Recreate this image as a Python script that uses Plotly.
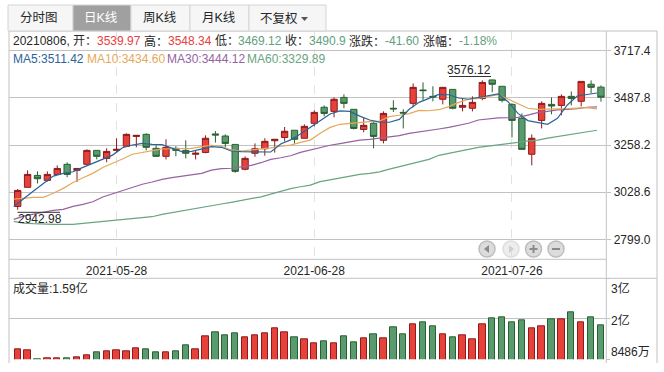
import plotly.graph_objects as go

W, H = 664, 372

tick_dates = ["2021-05-28", "2021-06-28", "2021-07-26"]
tick_index = [10, 30, 50]
price_ticks = [3717.4, 3487.8, 3258.2, 3028.6, 2799.0]

opens = [2959, 3052, 3110, 3086, 3115, 3164, 3135, 3164, 3232, 3193,
         3232, 3252, 3300, 3310, 3242, 3203, 3242, 3232, 3213, 3222,
         3312, 3302, 3261, 3140, 3218, 3240, 3279, 3295, 3330, 3291,
         3364, 3442, 3422, 3490, 3432, 3334, 3364, 3281, 3437, 3417,
         3461, 3526, 3495, 3481, 3529, 3442, 3437, 3485, 3575, 3544,
         3456, 3388, 3213, 3378, 3456, 3451, 3495, 3471, 3554, 3539.97]
closes = [3037, 3115, 3094, 3115, 3144, 3115, 3144, 3232, 3203, 3227,
          3237, 3310, 3305, 3247, 3203, 3247, 3232, 3218, 3218, 3291,
          3307, 3266, 3130, 3193, 3240, 3276, 3286, 3325, 3286, 3349,
          3417, 3412, 3481, 3461, 3339, 3354, 3300, 3412, 3434, 3414,
          3539, 3523, 3492, 3539, 3437, 3451, 3466, 3563, 3554, 3476,
          3378, 3237, 3291, 3461, 3448, 3495, 3485, 3568, 3539, 3490.9]
highs = [3044, 3135, 3130, 3130, 3159, 3174, 3144, 3237, 3232, 3242,
         3291, 3315, 3305, 3315, 3257, 3286, 3252, 3281, 3232, 3305,
         3326, 3310, 3261, 3203, 3266, 3291, 3286, 3346, 3330, 3359,
         3427, 3451, 3490, 3505, 3432, 3393, 3369, 3422, 3476, 3432,
         3558, 3563, 3544, 3539, 3529, 3485, 3495, 3573, 3576.12, 3544,
         3461, 3412, 3310, 3471, 3490, 3505, 3519, 3568, 3573, 3548.34]
lows = [2942.98, 3052, 3071, 3080, 3115, 3101, 3078, 3164, 3188, 3174,
        3222, 3252, 3247, 3232, 3203, 3188, 3203, 3193, 3188, 3218,
        3270, 3247, 3123, 3135, 3201, 3206, 3221, 3276, 3265, 3291,
        3349, 3398, 3393, 3437, 3334, 3320, 3242, 3266, 3419, 3339,
        3442, 3476, 3471, 3456, 3432, 3422, 3422, 3476, 3515, 3466,
        3295, 3237, 3159, 3339, 3408, 3403, 3451, 3446, 3510, 3469.12]

ma5 = [2959, 2998, 3034, 3071, 3107, 3120, 3128, 3149, 3169, 3188,
       3209, 3245, 3258, 3266, 3261, 3260, 3244, 3226, 3227, 3239,
       3250, 3247, 3229, 3226, 3226, 3224, 3224, 3263, 3283, 3312,
       3344, 3375, 3409, 3424, 3422, 3399, 3380, 3370, 3369, 3383,
       3432, 3466, 3485, 3505, 3503, 3487, 3481, 3489, 3497, 3507,
       3469, 3412, 3377, 3367, 3359, 3388, 3453, 3497, 3505, 3511.42]
ma10 = [2995, 3000, 3003, 3003, 3023, 3047, 3076, 3099, 3120, 3149,
        3169, 3190, 3213, 3221, 3229, 3239, 3240, 3240, 3242, 3250,
        3257, 3252, 3234, 3229, 3234, 3237, 3244, 3252, 3258, 3271,
        3282, 3315, 3344, 3359, 3364, 3369, 3372, 3375, 3396, 3403,
        3411, 3427, 3425, 3430, 3445, 3466, 3481, 3485, 3494, 3503,
        3482, 3458, 3437, 3432, 3432, 3433, 3435, 3438, 3440, 3434.60]
ma30 = [2896, 2912, 2922, 2932, 2940, 2945, 2959, 2969, 2982, 3005,
        3020, 3037, 3052, 3067, 3078, 3091, 3099, 3107, 3112, 3120,
        3136, 3143, 3145, 3153, 3159, 3172, 3188, 3196, 3206, 3222,
        3234, 3245, 3257, 3265, 3273, 3282, 3286, 3291, 3299, 3304,
        3315, 3321, 3330, 3336, 3344, 3354, 3364, 3380, 3386, 3390,
        3391, 3393, 3404, 3416, 3422, 3429, 3432, 3435, 3442, 3444.12]
ma60 = [2886, 2878, 2875, 2872, 2872, 2872, 2872, 2877, 2882, 2886,
        2891, 2896, 2901, 2906, 2909, 2920, 2929, 2938, 2945, 2955,
        2964, 2971, 2979, 2987, 2995, 3006, 3019, 3034, 3046, 3055,
        3063, 3080, 3089, 3099, 3107, 3115, 3120, 3127, 3141, 3153,
        3167, 3177, 3188, 3208, 3218, 3227, 3235, 3247, 3253, 3258,
        3266, 3271, 3278, 3282, 3292, 3300, 3308, 3317, 3325, 3329.89]
volumes = [1.225, 1.20, 0.98, 1.00, 1.00, 1.00, 1.025, 1.075, 1.15, 1.175,
           1.20, 1.175, 1.25, 1.225, 1.15, 1.15, 1.175, 1.325, 1.225, 1.55,
           1.65, 1.575, 1.625, 1.525, 1.575, 1.625, 1.75, 1.65, 1.525, 1.475,
           1.375, 1.425, 1.375, 1.55, 1.40, 1.50, 1.60, 1.50, 1.775, 1.60,
           1.85, 1.90, 1.80, 1.60, 1.525, 1.575, 1.475, 1.85, 2.00, 2.025,
           1.90, 1.95, 1.75, 1.80, 1.975, 1.975, 2.15, 1.90, 2.025, 1.825]
volume_ticks = [3, 2, 0.975]
volume_labels = ["3亿", "2亿", "8486万"]

RED, RED_D = "#e6423a", "#8e1a1c"
GREEN, GREEN_D = "#5a9a6f", "#28602f"
GRID = "#c2c2c2"
FONT = "Liberation Sans, Noto Sans CJK SC, sans-serif"
TEXT = "#262626"
C5, C10, C30, C60 = "#2a6496", "#e6a85a", "#95629f", "#68a580"
TXT_RED, TXT_GREEN = "#e8403c", "#5f9f7f"

index = list(range(len(closes)))
line_index = [i - 0.4 for i in index]

def px(x): return x / W
def py(y): return 1 - y / H

fig = go.Figure()
fig.add_trace(go.Candlestick(
    x=index, open=opens, high=highs, low=lows, close=closes,
    whiskerwidth=0, xaxis="x", yaxis="y",
    increasing=dict(fillcolor=RED, line=dict(color=RED_D, width=1)),
    decreasing=dict(fillcolor=GREEN, line=dict(color=GREEN_D, width=1)),
))
for vals, col in [(ma60, C60), (ma30, C30), (ma10, C10), (ma5, C5)]:
    fig.add_trace(go.Scatter(x=line_index, y=vals, mode="lines", xaxis="x", yaxis="y",
                             line=dict(color=col, width=1.2, shape="linear")))
is_up = [c >= o for o, c in zip(opens, closes)]
fig.add_trace(go.Bar(
    x=index, y=volumes, width=0.64, xaxis="x2", yaxis="y2",
    marker=dict(color=[RED if u else GREEN for u in is_up],
                line=dict(color=[RED_D if u else GREEN_D for u in is_up], width=1)),
))

shapes, notes = [], []

def hline(y, x0, x1, color=GRID, width=1):
    shapes.append(dict(type="line", xref="paper", yref="paper", x0=px(x0), x1=px(x1),
                       y0=py(y), y1=py(y), line=dict(color=color, width=width)))

def vline(x, y0, y1, color=GRID, width=1):
    shapes.append(dict(type="line", xref="paper", yref="paper", x0=px(x), x1=px(x),
                       y0=py(y0), y1=py(y1), line=dict(color=color, width=width)))

def note(text, x, y, color=TEXT, size=12, xanchor="left"):
    notes.append(dict(text=text, xref="paper", yref="paper", x=px(x), y=py(y),
                      xanchor=xanchor, yanchor="middle", showarrow=False,
                      font=dict(family=FONT, size=size, color=color),
                      borderpad=0, borderwidth=0))

# frame
hline(31, 9, 657)
hline(259.3, 9, 606)
hline(278.3, 9, 657)
vline(9, 31, 363)
vline(606.3, 31, 363)
vline(657, 31, 363)

# tabs
edges = [8, 73, 131, 190, 249, 326]
tabs = ["分时图", "日K线", "周K线", "月K线", "不复权"]
centers = [39, 100.7, 160, 219, 279]
for i, (name, cx) in enumerate(zip(tabs, centers)):
    active = i == 1
    shapes.append(dict(type="rect", xref="paper", yref="paper", x0=px(edges[i]), x1=px(edges[i + 1]),
                       y0=py(31), y1=py(5), fillcolor="#a0a0a0" if active else "#f6f6f6",
                       line=dict(color="#d4d4d4", width=1)))
    note(name, cx, 18.5, "#ffffff" if active else TEXT, 12.5, "center")
shapes.append(dict(type="path", xref="paper", yref="paper", fillcolor="#555555", line=dict(width=0),
                   path=f"M {px(301)} {py(17)} L {px(308)} {py(17)} L {px(304.5)} {py(21)} Z"))

# header rows
for text, x, color in [("20210806, 开：", 13, TEXT), ("3539.97", 97, TXT_RED), ("高：", 144, TEXT),
                       ("3548.34", 168, TXT_RED), ("低：", 215, TEXT), ("3469.12", 238, TXT_GREEN),
                       ("收：", 285, TEXT), ("3490.9", 309, TXT_GREEN), ("涨跌：", 349, TEXT),
                       ("-41.60", 385, TXT_GREEN), ("涨幅：", 423, TEXT), ("-1.18%", 459, TXT_GREEN)]:
    note(text, x, 41, color)
for text, x, color in [("MA5:3511.42", 13, C5), ("MA10:3434.60", 86.7, C10),
                       ("MA30:3444.12", 167, C30), ("MA60:3329.89", 247, C60)]:
    note(text, x, 59.5, color)

# high / low labels
note("3576.12", 491, 70.5, TEXT, 12, "right")
hline(76.5, 449, 491, "#333333")
note("2942.98", 17.5, 219, TEXT, 12)
hline(212.3, 17.5, 60, "#333333")

# volume labels
note("成交量:1.59亿", 13, 288)
for lab, y in zip(volume_labels, [288.5, 320, 352]):
    note(lab, 611, y)

# zoom buttons
for cx, fill, edge, alpha in [(487, "#dcdcdc", "#bdbdbd", 1), (511, "#dcdcdc", "#bdbdbd", 0.5),
                              (533.5, "#dcdcdc", "#bdbdbd", 1), (556, "#dcdcdc", "#bdbdbd", 1)]:
    r = 8
    shapes.append(dict(type="circle", xref="paper", yref="paper", x0=px(cx - r), x1=px(cx + r),
                       y0=py(249 + r), y1=py(249 - r), fillcolor=fill, opacity=alpha,
                       line=dict(color=edge, width=1.5)))
ICON = "#8a8a8a"
shapes.append(dict(type="path", xref="paper", yref="paper", fillcolor=ICON, line=dict(width=0),
                   path=f"M {px(484)} {py(249)} L {px(489)} {py(245)} L {px(489)} {py(253)} Z"))
shapes.append(dict(type="path", xref="paper", yref="paper", fillcolor="#cfcfcf", line=dict(width=0),
                   path=f"M {px(514)} {py(249)} L {px(509)} {py(245)} L {px(509)} {py(253)} Z"))
hline(249, 529.5, 537.5, ICON, 2)
vline(533.5, 245, 253, ICON, 2)
hline(249, 552, 560, ICON, 2)

PX_PRICE = 4.87
fig.update_layout(
    width=W, height=H, margin=dict(l=0, r=0, t=0, b=0), autosize=False,
    paper_bgcolor="#ffffff", plot_bgcolor="#ffffff", showlegend=False, hovermode=False,
    boxgap=0.36, boxgroupgap=0, bargap=0, font=dict(family=FONT, size=12, color=TEXT),
    shapes=shapes, annotations=notes,
    xaxis=dict(domain=[px(9), px(606.3)], range=[-0.88, 59.54], anchor="y", rangeslider=dict(visible=False),
               tickmode="array", tickvals=tick_index, ticktext=tick_dates, ticks="",
               ticklabelposition="inside", ticklabelstandoff=-2, showgrid=True, gridcolor="#e2e2e2",
               griddash="dash", gridwidth=1,
               showline=False, zeroline=False, tickfont=dict(family=FONT, size=12, color=TEXT)),
    yaxis=dict(domain=[py(278.3), py(31)], range=[2799 - 39 * PX_PRICE, 3717.4 + 19.7 * PX_PRICE],
               anchor="x", side="right", tickmode="array", tickvals=price_ticks,
               ticktext=[f"{v:.1f}" for v in price_ticks], ticks="outside", ticklen=4, tickcolor=GRID,
               showgrid=True, gridcolor=GRID, gridwidth=1, zeroline=False, showline=False,
               tickfont=dict(family=FONT, size=12, color=TEXT)),
    xaxis2=dict(domain=[px(9), px(606.3)], range=[-0.88, 59.54], anchor="y2", showticklabels=False,
                ticks="", showgrid=False, zeroline=False, showline=False),
    yaxis2=dict(domain=[py(359.3), py(278.3)], range=[0.975, 3], anchor="x2", side="right",
                tickmode="array", tickvals=volume_ticks, ticktext=["", "", ""], ticks="outside", ticklen=3,
                tickcolor=GRID, showgrid=True, gridcolor=GRID, gridwidth=1, zeroline=False, showline=False),
)

fig.write_html("out.html", config={"displayModeBar": False}, post_script="document.body.style.margin='0';")
